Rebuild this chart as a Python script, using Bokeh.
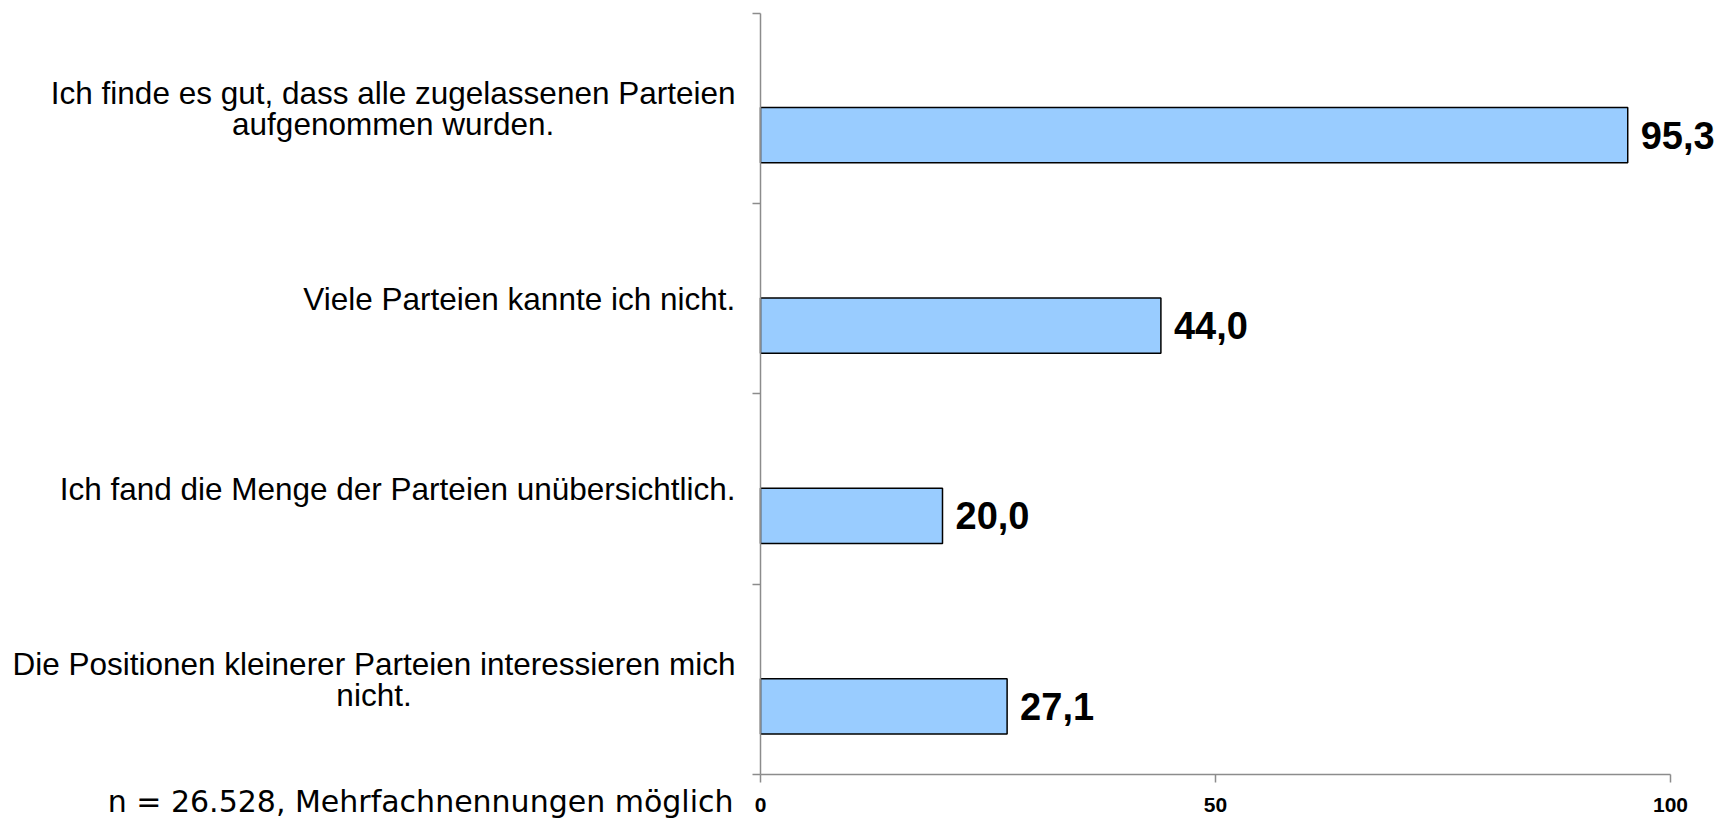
from bokeh.plotting import figure
from bokeh.models import (ColumnDataSource, Range1d, FixedTicker, LabelSet, Label,
                          LinearAxis, CustomJSTickFormatter)
from bokeh.core.properties import value
from bokeh.transform import dodge
from bokeh.embed import file_html
from bokeh.resources import INLINE

# ---------------- data ----------------
categories = [
    "Ich finde es gut, dass alle zugelassenen Parteien\naufgenommen wurden.",
    "Viele Parteien kannte ich nicht.",
    "Ich fand die Menge der Parteien unübersichtlich.",
    "Die Positionen kleinerer Parteien interessieren mich\nnicht.",
]
values = [95.3, 44.0, 20.0, 27.1]
value_labels = ["95,3", "44,0", "20,0", "27,1"]
x_ticks = [0, 50, 100]
x_min, x_max = 0, 100
note = "n = 26.528, Mehrfachnennungen möglich"

# ---------------- layout constants (pixels inside the figure) ----------------
W, H = 1729, 820
X0_PX, X100_PX = 760, 1670        # where 0 and 100 of the value axis sit
YTOP_PX, YBOT_PX = 12.5, 774      # top / bottom of the category axis
CAT_SIZE = 31.5                   # category label font size (px)
LINE_H = 31                       # line spacing of wrapped category labels (px)
LABEL_GAP = 25                    # gap between category labels and the axis (px)

# advance widths (per 1000 em) of Arial / Liberation Sans, used to right-align
# each wrapped label block while centring its lines inside the block
_AW = {" ": 278, ",": 278, ".": 278, "a": 556, "b": 556, "c": 500, "d": 556,
       "e": 556, "f": 278, "g": 556, "h": 556, "i": 222, "k": 500, "l": 222,
       "m": 833, "n": 556, "o": 556, "p": 556, "r": 333, "s": 500, "t": 278,
       "u": 556, "v": 500, "w": 722, "z": 500, "ü": 556, "I": 278, "P": 667,
       "V": 667, "M": 833, "D": 722}


def text_width(s, size):
    return sum(_AW.get(ch, 556) for ch in s) * size / 1000.0


n = len(categories)
ypos = [n - 0.5 - i for i in range(n)]          # band centres, first category on top
band_edges = list(range(n + 1))

ppx = (X100_PX - X0_PX) / (x_max - x_min)
ppy = (YBOT_PX - YTOP_PX) / n
x_range = Range1d(x_min - X0_PX / ppx, x_max + (W - X100_PX) / ppx)
y_range = Range1d(-(H - YBOT_PX) / ppy, n + YTOP_PX / ppy)

src = ColumnDataSource(dict(cat=categories, val=values, lab=value_labels, y=ypos))

# split the category labels into lines, centred inside a right-aligned block
cl = dict(text=[], y=[], yoff=[], xoff=[])
for cat, yc in zip(categories, ypos):
    lines = cat.split("\n")
    k = len(lines)
    block_w = max(text_width(l, CAT_SIZE) for l in lines)
    for j, line in enumerate(lines):
        cl["text"].append(line)
        cl["y"].append(yc)
        cl["yoff"].append(((k - 1) / 2 - j) * LINE_H)
        cl["xoff"].append(-(LABEL_GAP + block_w / 2))
src_cat = ColumnDataSource(cl)

p = figure(width=W, height=H, output_backend="svg", toolbar_location=None,
           x_range=x_range, y_range=y_range,
           x_axis_location=None, y_axis_location=None,
           min_border=0, min_border_left=0, min_border_right=0,
           min_border_top=0, min_border_bottom=0)
p.outline_line_color = None
p.xgrid.visible = False
p.ygrid.visible = False
p.background_fill_color = "white"
p.border_fill_color = "white"

BAR_OFFSET = -0.142
p.hbar(y=dodge("y", BAR_OFFSET, range=p.y_range), right="val", left=0, height=0.29,
       source=src, fill_color="#99ccff", line_color="black", line_width=1.5)

# value labels
p.add_layout(LabelSet(x="val", y=dodge("y", BAR_OFFSET, range=p.y_range), text="lab",
                      source=src, x_offset=13, text_align="left", text_baseline="middle",
                      text_font=value("Liberation Sans"), text_font_style="bold",
                      text_font_size="38px", text_color="black"))

# category labels
p.add_layout(LabelSet(x=0, y="y", y_offset="yoff", x_offset="xoff", text="text",
                      source=src_cat, text_align="center", text_baseline="middle",
                      text_font=value("Liberation Sans"),
                      text_font_size=f"{CAT_SIZE}px", text_color="black"))

# note
p.add_layout(Label(x=0, y=0, text=note, x_offset=-27, y_offset=-27,
                   text_align="right", text_baseline="middle",
                   text_font="DejaVu Sans", text_font_size="30px",
                   text_color="black"))

axis_col = "#8c8c8c"
# value axis (x), fixed at y = 0
xa = LinearAxis(fixed_location=0, bounds=(x_min, x_max),
                ticker=FixedTicker(ticks=x_ticks))
xa.axis_line_color = axis_col
xa.axis_line_width = 1.5
xa.major_tick_line_color = axis_col
xa.major_tick_line_width = 1.5
xa.major_tick_out = 8
xa.major_tick_in = 0
xa.minor_tick_line_color = None
xa.major_label_standoff = 15
xa.major_label_text_font = "Liberation Sans"
xa.major_label_text_font_style = "bold"
xa.major_label_text_font_size = "21px"
xa.major_label_text_color = "black"
p.add_layout(xa, "below")

# category axis (y), fixed at x = 0, ticks on the band edges
ya = LinearAxis(fixed_location=0, bounds=(0, n), ticker=FixedTicker(ticks=band_edges),
                formatter=CustomJSTickFormatter(code="return ''"))
ya.axis_line_color = axis_col
ya.axis_line_width = 1.5
ya.major_tick_line_color = axis_col
ya.major_tick_line_width = 1.5
ya.major_tick_out = 8
ya.major_tick_in = 0
ya.minor_tick_line_color = None
ya.major_label_standoff = 0
p.add_layout(ya, "left")

open("out.html", "w").write(file_html(p, INLINE))
